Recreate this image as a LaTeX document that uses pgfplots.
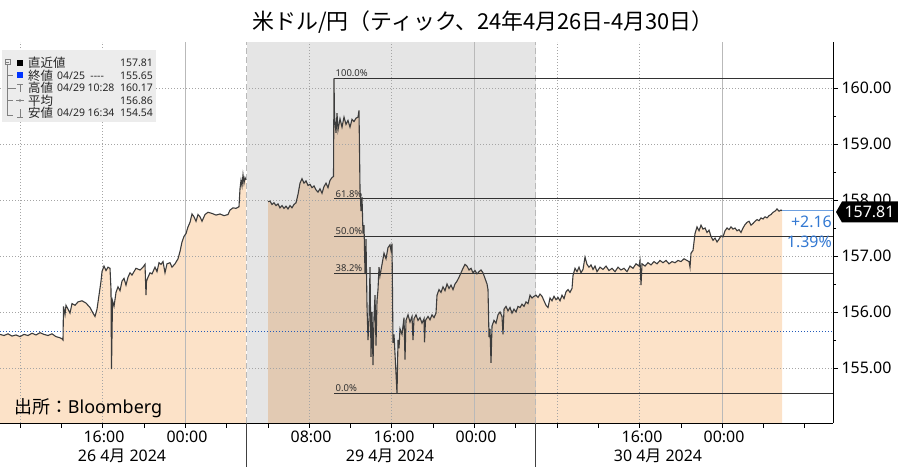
\documentclass[border=0pt]{standalone}
\usepackage{fontspec}
\setmainfont{Noto Sans}
\newfontfamily\cjk{Noto Sans CJK JP}
\usepackage{pgfplots}
\pgfplotsset{compat=1.18}
\usepackage{pgfplotstable}

\definecolor{peach}{RGB}{252,226,200}
\definecolor{pxline}{RGB}{60,60,60}
\definecolor{gridc}{RGB}{165,165,165}
\definecolor{daysep}{RGB}{185,185,185}
\definecolor{prevblue}{RGB}{35,90,185}
\definecolor{chgblue}{RGB}{50,120,210}
\definecolor{legbg}{RGB}{236,236,236}
\definecolor{fibc}{RGB}{50,50,50}

% x = position along the tick time axis (1 unit = 1 px of the 898 px chart)
% 26 Apr session
\pgfplotstableread{
x y
0 155.60
4 155.58
8 155.61
12 155.57
16 155.59
20 155.56
24 155.60
28 155.58
32 155.62
36 155.59
40 155.63
44 155.60
48 155.58
52 155.61
56 155.56
60 155.54
62 155.52
63 155.50
63.5 156.10
65 155.95
66 156.12
68 156.05
70 155.98
72 156.15
75 156.12
78 156.18
82 156.20
86 156.16
90 156.08
93 155.98
95 155.92
97 156.05
99 156.30
101 156.55
102 156.72
104 156.82
106 156.74
108 156.80
110 156.78
111 156.40
111.5 154.98
112.5 156.20
114 156.10
116 156.35
118 156.45
120 156.38
122 156.55
124 156.60
126 156.48
128 156.62
130 156.70
132 156.66
134 156.72
136 156.78
140 156.75
143 156.80
145 156.85
146 156.30
146.5 156.55
148 156.62
150 156.70
152 156.68
155 156.80
157 156.72
159 156.88
161 156.85
163 156.90
165 156.70
167 156.86
170 156.88
172 156.80
175 156.86
178 156.95
180 157.08
182 157.25
184 157.35
186 157.40
188 157.52
190 157.60
192 157.75
194 157.70
196 157.62
198 157.74
200 157.70
202 157.62
205 157.74
208 157.78
212 157.76
216 157.73
220 157.75
224 157.72
228 157.74
230 157.82
233 157.86
236 157.85
239 157.88
240 158.20
241 158.35
242 158.25
243 158.45
244 158.30
245 158.40
246 158.36
}\dayA

% 29 Apr and 30 Apr sessions
\pgfplotstableread{
x y
268 157.97
270 157.98
272 157.92
274 157.95
276 157.90
278 157.93
280 157.86
282 157.90
284 157.85
286 157.89
288 157.84
290 157.90
292 157.86
294 157.92
296 157.95
298 158.10
300 158.30
302 158.38
304 158.30
306 158.34
308 158.26
310 158.28
312 158.22
314 158.25
316 158.18
318 158.14
320 158.20
322 158.12
324 158.24
326 158.30
328 158.22
330 158.35
332 158.40
333.5 158.42
334 160.17
334.5 159.50
336 159.20
337 159.55
338 159.25
340 159.45
342 159.30
344 159.48
346 159.35
348 159.42
350 159.30
352 159.44
354 159.40
356 159.46
358 159.48
359 159.60
360 158.20
361 157.80
362 158.05
363 157.40
364 157.55
365 156.70
366 157.30
367 156.10
368 155.50
369 155.85
370 156.80
371 155.20
372 156.00
373 155.05
374 155.90
375 156.30
376 155.40
377 156.20
378 156.40
379 156.80
380 156.65
382 156.85
384 157.05
386 156.95
388 157.15
390 157.20
391 157.10
392 157.22
393 155.45
394 155.60
395 155.25
396 154.90
397 154.54
398 155.50
399 155.35
400 155.70
402 155.60
404 155.90
405 155.15
406 155.85
408 155.95
410 155.82
412 155.92
413 155.50
414 155.88
416 155.95
418 155.85
420 155.90
422 155.80
424 155.88
424.5 155.46
425.5 155.85
428 155.92
430 155.86
432 155.95
434 155.90
436 155.98
437 156.30
439 156.40
441 156.35
443 156.45
445 156.38
447 156.50
449 156.42
451 156.48
453 156.40
455 156.50
457 156.55
459 156.62
461 156.70
463 156.78
465 156.85
467 156.82
469 156.75
471 156.78
473 156.70
475 156.74
477 156.68
479 156.72
481 156.75
483 156.70
485 156.60
487 156.50
488 156.40
489 155.55
490 155.70
491 155.09
492 155.75
494 155.85
496 155.80
498 155.95
500 156.00
502 155.92
503 155.60
504 156.05
506 156.10
508 156.02
510 156.08
512 155.98
514 156.05
516 156.00
518 156.10
520 156.08
522 156.14
524 156.10
526 156.18
528 156.15
530 156.30
532 156.25
534 156.28
536 156.30
538 156.26
540 156.32
542 156.28
544 156.20
546 156.12
548 156.08
550 156.25
552 156.20
554 156.28
556 156.22
558 156.26
560 156.20
562 156.30
564 156.24
566 156.36
568 156.40
570 156.35
572 156.42
573 156.65
575 156.78
577 156.72
579 156.80
581 156.70
583 156.76
585 156.98
587 156.85
589 156.80
591 156.84
593 156.76
595 156.82
597 156.72
600 156.80
603 156.76
606 156.82
609 156.74
612 156.78
615 156.72
618 156.80
621 156.75
624 156.78
627 156.72
630 156.82
633 156.78
636 156.86
639 156.82
640 156.92
641 156.48
642 156.86
645 156.82
648 156.88
651 156.84
654 156.90
657 156.86
660 156.92
663 156.88
666 156.92
669 156.86
672 156.90
675 156.88
678 156.92
681 156.90
684 156.95
687 156.92
689 156.90
690 156.80
691 157.05
693 157.10
695 157.40
697 157.52
699 157.45
701 157.55
703 157.48
705 157.50
707 157.42
709 157.46
711 157.35
713 157.28
715 157.32
717 157.25
719 157.30
721 157.36
723 157.34
725 157.45
727 157.50
729 157.47
731 157.52
733 157.48
735 157.50
737 157.45
739 157.47
741 157.42
743 157.50
745 157.56
747 157.60
749 157.62
751 157.55
753 157.58
755 157.62
757 157.65
759 157.63
761 157.68
763 157.66
765 157.70
767 157.68
769 157.72
771 157.74
773 157.78
775 157.80
777 157.84
779 157.80
781 157.82
782 157.81
}\dayB

\begin{document}
\begin{tikzpicture}[x=1bp,y=1bp]
\useasboundingbox (0,-44) rectangle (898,423);
\begin{axis}[
  at={(0,0)}, anchor=south west,
  scale only axis, width=833bp, height=381bp,
  xmin=0, xmax=833, ymin=154.018, ymax=160.821,
  clip mode=individual,
  axis x line*=bottom, axis y line*=right,
  x axis line style={-}, y axis line style={-},
  tick align=outside,
  major tick length=5bp, minor tick length=3bp,
  every tick/.style={black, line width=0.6bp},
  xtick={20,61.3,102.6,143.9,185.2,226.5,267.8,309.1,350.4,391.7,433,474.3,515.6,556.9,598.2,639.5,680.8,722.1,763.4,804.7},
  xticklabel=\empty,
  ytick={155,156,...,160},
  minor y tick num=1,
  yticklabel style={font=\fontsize{16}{16}\selectfont, anchor=west, xshift=0bp},
  /pgf/number format/.cd, fixed, fixed zerofill, precision=2, assume math mode=true,
]
% area under the price
\addplot[draw=none, fill=peach] table {\dayA} \closedcycle;
\addplot[draw=none, fill=peach] table {\dayB} \closedcycle;
% shaded 29 Apr session
\fill[black, fill opacity=0.1] (axis cs:246.5,154.018) rectangle (axis cs:535.7,160.821);
% grid
\pgfplotsinvokeforeach{155,156,...,160}{
  \draw[gridc, line width=0.7bp, dash pattern=on 1bp off 2bp] (axis cs:0,#1) -- (axis cs:833,#1);
}
\pgfplotsinvokeforeach{20,102.6,309.1,391.7,556.9,639.5}{
  \draw[gridc, line width=0.7bp, dash pattern=on 1bp off 2bp] (axis cs:#1,154.018) -- (axis cs:#1,160.821);
}
\pgfplotsinvokeforeach{185.2,474.3,722.1}{
  \draw[daysep, line width=1bp] (axis cs:#1,154.018) -- (axis cs:#1,160.821);
}
\pgfplotsinvokeforeach{246.5,535.7}{
  \draw[daysep, line width=1bp, dash pattern=on 6bp off 3bp] (axis cs:#1,154.018) -- (axis cs:#1,160.821);
}
% previous close 04/25
\draw[prevblue, line width=1.3bp, dash pattern=on 1.3bp off 1.7bp] (axis cs:0,155.65) -- (axis cs:833,155.65);
% Fibonacci retracement
\pgfplotsinvokeforeach{160.17,158.02,157.355,156.69,154.54}{
  \draw[fibc, line width=0.9bp] (axis cs:334,#1) -- (axis cs:833,#1);
}
\node[anchor=south west, inner sep=1.5bp, font=\fontsize{9.5}{9.5}\selectfont, text=fibc] at (axis cs:334,160.17) {100.0\%};
\node[anchor=south west, inner sep=1.5bp, font=\fontsize{9.5}{9.5}\selectfont, text=fibc] at (axis cs:334,158.02) {61.8\%};
\node[anchor=south west, inner sep=1.5bp, font=\fontsize{9.5}{9.5}\selectfont, text=fibc] at (axis cs:334,157.355) {50.0\%};
\node[anchor=south west, inner sep=1.5bp, font=\fontsize{9.5}{9.5}\selectfont, text=fibc] at (axis cs:334,156.69) {38.2\%};
\node[anchor=south west, inner sep=1.5bp, font=\fontsize{9.5}{9.5}\selectfont, text=fibc] at (axis cs:334,154.54) {0.0\%};
% price line
\addplot[pxline, line width=1.1bp] table {\dayA};
\addplot[pxline, line width=1.1bp] table {\dayB};
\draw[chgblue!70, line width=0.8bp] (axis cs:782,157.81) -- (axis cs:833,157.81);
\end{axis}

% title
\node[font=\fontsize{22}{26}\selectfont\cjk] at (483,401) {米ドル/円（ティック、24年4月26日-4月30日）};
% source
\node[anchor=west, inner sep=0pt, font=\fontsize{18}{18}\selectfont] at (14,15) {{\cjk 出所：}Bloomberg};

% last price box and change
\fill[black] (836,211) -- (842,221.5) -- (898,221.5) -- (898,200.5) -- (842,200.5) -- cycle;
\node[text=white, font=\fontsize{16}{16}\selectfont, inner sep=0pt] at (869.5,211) {157.81};
\node[anchor=east, text=chgblue, font=\fontsize{16}{16}\selectfont, inner sep=0pt] at (832,201) {+2.16};
\node[anchor=east, text=chgblue, font=\fontsize{16}{16}\selectfont, inner sep=0pt] at (832,181) {1.39\%};

% x axis labels
\draw[black!75, line width=1bp] (246.5,0) -- (246.5,-44);
\draw[black!75, line width=1bp] (535.7,0) -- (535.7,-44);
\begin{scope}[every node/.style={font=\fontsize{16}{16}\selectfont, inner sep=0pt}]
\node at (104,-14) {16:00};
\node at (187,-14) {00:00};
\node at (311,-14) {08:00};
\node at (394,-14) {16:00};
\node at (476,-14) {00:00};
\node at (642,-14) {16:00};
\node at (724,-14) {00:00};
\node at (122,-33) {26 4{\cjk 月} 2024};
\node at (390,-33) {29 4{\cjk 月} 2024};
\node at (658,-33) {30 4{\cjk 月} 2024};
\end{scope}

% legend
\fill[legbg] (2,301) rectangle (156,373);
\draw[gray, line width=0.5bp] (5,358.5) rectangle (10,363.5);
\draw[gray, line width=0.5bp] (6,361) -- (9,361);
\draw[gray, line width=0.5bp] (7.5,358.5) -- (7.5,308) -- (13,308);
\draw[gray, line width=0.5bp] (7.5,347.5) -- (13,347.5);
\draw[gray, line width=0.5bp] (7.5,335) -- (16,335);
\draw[gray, line width=0.5bp] (7.5,322.5) -- (13,322.5);
\fill[black] (17,357) rectangle (23,363);
\fill[blue!80!cyan] (17,344.5) rectangle (23,350.5);
\draw[gray, line width=0.6bp] (17,339) -- (23,339) (20,339) -- (20,331);
\draw[gray, line width=0.6bp] (16,322.5) -- (24,322.5);
\fill[gray] (20,322.5) circle (1.3bp);
\draw[gray, line width=0.6bp] (17,306) -- (23,306) (20,306) -- (20,314);
\begin{scope}[every node/.style={font=\fontsize{10.5}{10.5}\selectfont, inner sep=0pt, text=black!85}]
\node[anchor=west, font=\fontsize{12.5}{12.5}\selectfont\cjk] at (28,360) {直近値};
\node[anchor=west, font=\fontsize{12.5}{12.5}\selectfont\cjk] at (28,347.5) {終値};
\node[anchor=west, font=\fontsize{12.5}{12.5}\selectfont\cjk] at (28,335) {高値};
\node[anchor=west, font=\fontsize{12.5}{12.5}\selectfont\cjk] at (28,322.5) {平均};
\node[anchor=west, font=\fontsize{12.5}{12.5}\selectfont\cjk] at (28,310) {安値};
\node[anchor=west] at (57,347.5) {04/25 \ -{}-{}-{}-};
\node[anchor=west] at (57,335) {04/29 10:28};
\node[anchor=west] at (57,310) {04/29 16:34};
\node[anchor=east] at (153,360) {157.81};
\node[anchor=east] at (153,347.5) {155.65};
\node[anchor=east] at (153,335) {160.17};
\node[anchor=east] at (153,322.5) {156.86};
\node[anchor=east] at (153,310) {154.54};
\end{scope}
\end{tikzpicture}
\end{document}
